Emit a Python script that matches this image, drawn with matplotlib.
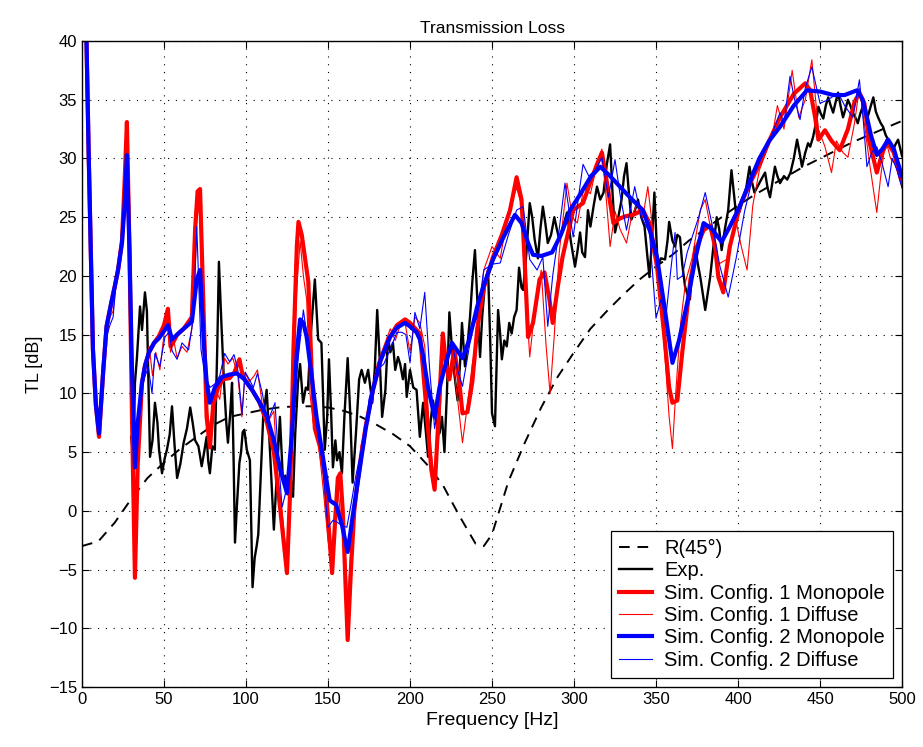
import numpy as np
import matplotlib
matplotlib.use("Agg")
import matplotlib.pyplot as plt

plt.rcParams['font.family'] = ['Liberation Sans', 'DejaVu Sans']

# R(45 deg) mass-law style curve
f_r45 = [0, 10, 20, 30, 40, 50, 60, 70, 80, 90, 100, 110, 120, 130, 140, 150, 160,
         170, 180, 190, 200, 210, 220, 230, 240, 245, 250, 260, 270, 280, 290, 300,
         310, 320, 330, 340, 350, 360, 370, 380, 390, 400, 410, 420, 430, 440, 450,
         460, 470, 480, 490, 500]
tl_r45 = [-3.0, -2.6, -1.0, 1.0, 2.8, 4.1, 5.3, 6.3, 7.3, 8.0, 8.3, 8.6, 8.8, 8.9, 8.9,
          8.8, 8.5, 8.0, 7.3, 6.5, 5.5, 4.0, 2.2, -0.4, -2.8, -3.0, -2.0, 2.5, 5.8, 8.8,
          11.4, 13.5, 15.5, 17.0, 18.4, 19.7, 20.8, 21.8, 23.0, 24.0, 25.0, 26.0, 26.9,
          27.7, 28.5, 29.3, 30.0, 30.7, 31.4, 32.0, 32.6, 33.2]

# experiment
f_exp = [30, 31.3, 32.3, 33.5, 35.4, 36.6, 38.4, 39.6, 41.5, 43, 44.5, 46, 47, 48.8,
         50.5, 51.8, 53.5, 54.9, 56.5, 58, 60, 62, 64, 66, 67.5, 69, 71, 73, 74.5, 76,
         77, 78, 79.5, 81, 82.5, 83.5, 85, 86.6, 88, 89, 90.5, 91.5, 92.5, 93.3, 94.5,
         96, 97, 98, 99, 100.5, 102.4, 104, 105.3, 106.5, 107.5, 109, 110.5, 112.6,
         114.6, 117, 119, 120.7, 122.6, 124, 125.6, 127, 128.7, 130, 131.7, 133, 134.8,
         136.5, 137.8, 139.5, 142, 144, 146, 148, 149.5, 150.6, 152, 153, 154.5, 155.5,
         157, 158.5, 160, 162, 163.5, 165, 167, 169, 170.5, 172.5, 174.5, 177, 178.5,
         180, 181.5, 183, 185, 186.6, 188, 189.6, 191, 192.7, 194, 195.7, 197, 198, 200,
         202, 204, 206, 208, 209.5, 211, 212.5, 214, 216, 218, 219.5, 221, 222.5, 224,
         225.5, 227, 229, 230.5, 231.7, 233.5, 235, 236.6, 238, 239.6, 241, 242.7, 244,
         245.7, 247.6, 249, 250, 251.8, 253.7, 255, 256, 257.5, 259, 260.5, 262, 263.5,
         265, 266.5, 268, 269, 271, 273, 274.5, 276, 278, 279.5, 281, 282.5, 284, 286,
         288, 289.5, 291, 293, 295.7, 298, 300.6, 302, 303.7, 305, 306.7, 308.5, 310,
         312, 314, 316, 318, 320, 322, 323.5, 325, 327, 329, 330.5, 332, 333.5, 335,
         337, 339, 341, 343, 344.5, 346, 347.5, 349, 351, 353, 355.5, 357, 358, 360,
         361.6, 363, 364.6, 366, 367.7, 369, 370.7, 372, 373.8, 375.5, 377, 378.5, 380,
         381.5, 383, 385, 387, 388.5, 390, 392, 394, 396, 397.5, 399, 401, 403, 405,
         407, 408.5, 410, 411.5, 413, 414.5, 416.5, 418, 419.5, 421, 422.5, 424, 425.6,
         428, 430, 432, 434, 436, 437.5, 439, 441, 442.7, 444, 445.7, 447.5, 449, 450.5,
         452, 453.5, 455, 456.5, 458, 459.5, 461, 462.5, 464, 465.5, 467, 468.5, 470,
         471.5, 473, 474.5, 476, 477.5, 479, 481, 482.5, 484, 485.4, 487, 488.4, 490,
         491.5, 493, 494.5, 496, 497.6, 499, 500]
tl_exp = [6.3, 4.5, 10.9, 13.0, 17.4, 15.4, 18.6, 17.0, 4.6, 6.0, 9.2, 7.5, 5.2, 3.2,
          4.5, 5.2, 6.5, 8.9, 5.5, 2.8, 4.0, 5.8, 7.0, 8.8, 7.5, 6.0, 5.5, 3.8, 5.0, 6.3,
          4.2, 3.2, 5.5, 5.2, 14.0, 21.2, 16.0, 10.9, 7.5, 5.8, 8.5, 10.9, 4.0, -2.7, 0.5,
          4.1, 5.0, 6.7, 6.9, 5.2, 4.3, -6.5, -4.0, -3.0, -2.0, 3.0, 8.0, 10.3,
          5.2, -1.6, 3.5, 8.0, 2.4, 3.0, 1.4, 3.0, 1.2, 6.5, 10.9, 12.5, 9.2,
          10.5, 10.3, 15.0, 19.7, 14.6, 14.3, 5.2, 8.0, 12.9, 8.0, 3.7, 6.0, 4.3,
          5.0, 3.2, 8.0, 13.0, 8.5, 2.4, 6.5, 11.2, 12.0, 10.9, 12.0, 9.2, 12.0,
          17.1, 13.0, 8.0, 10.3, 14.8, 13.5, 14.3, 12.0, 13.1, 12.5, 11.2, 12.5, 9.7, 12.0,
          10.5, 10.3, 6.3, 9.2, 7.0, 4.6, 7.5, 9.4, 7.5, 6.6, 8.0, 5.0, 10.0, 16.9,
          14.0, 11.7, 9.4, 12.5, 16.0, 12.3, 14.0, 16.5, 19.5, 22.2, 18.0, 13.1, 16.5,
          19.4, 20.5, 14.0, 8.3, 7.2, 17.1, 15.0, 12.9, 14.5, 14.0, 16.0, 15.1, 16.5,
          17.1, 20.7, 19.0, 18.8, 22.0, 26.2, 25.0, 23.1, 21.5, 24.0, 25.9, 24.5, 22.8, 23.5,
          25.0, 24.0, 23.1, 24.0, 25.4, 23.0, 20.8, 22.0, 23.7, 22.0, 21.6, 25.6, 24.2,
          26.0, 27.6, 26.5, 27.1, 29.5, 31.2, 27.0, 23.7, 25.0, 26.5, 28.5, 29.6, 27.0, 24.8,
          25.5, 26.5, 25.0, 24.2, 22.0, 19.9, 23.0, 27.1, 20.8, 21.5, 21.4, 23.0, 24.6, 23.0,
          22.5, 23.5, 23.3, 21.0, 19.1, 18.5, 18.0, 20.5, 22.5, 21.0, 19.9, 18.5, 17.1,
          18.5, 19.9, 22.5, 25.0, 24.0, 22.2, 24.0, 25.6, 29.0, 27.0, 25.0, 25.5, 26.5, 27.5,
          29.3, 28.0, 27.1, 27.5, 27.9, 28.3, 28.8, 27.5, 26.7, 28.0, 29.3, 28.5, 27.9,
          28.5, 28.2, 28.8, 30.0, 31.6, 30.5, 29.3, 30.5, 31.3, 31.0, 31.8, 33.0, 34.4, 33.8,
          33.4, 34.5, 35.2, 34.5, 33.9, 34.8, 35.6, 34.5, 33.5, 34.2, 35.0, 34.5, 33.9,
          33.5, 33.0, 33.8, 34.4, 34.0, 33.5, 34.5, 35.2, 34.0, 33.5, 33.0, 32.7, 32.0,
          31.6, 31.0, 30.7, 31.2, 31.6, 30.8, 30.2]

# simulation, config 1, monopole source
f_mono1 = [2.5, 4, 6.7, 8.5, 10.4, 13, 15, 18, 20, 22, 24.4, 26, 27.4, 29, 30.5, 32.3,
           34, 36.6, 38.5, 40.9, 44, 47, 50, 52.4, 54, 55.5, 58, 62, 67, 69, 70.5, 72,
           73.5, 76, 78, 80, 83, 86, 90, 93, 96, 98, 100, 103.7, 108, 112.8, 117, 121,
           125, 127, 129, 131, 132, 134, 136, 138, 140, 142, 145, 148, 150.5, 152.5,
           154.5, 156, 157.5, 159, 162, 164, 166, 168, 170, 173, 177.4, 182, 187.8, 192,
           197, 200, 204, 206, 208, 211, 213, 215, 217, 220, 222, 224, 227, 230, 232, 235,
           238, 241, 245, 250.6, 256, 261, 265, 268, 270, 272, 275, 279, 282, 285, 287,
           290, 293, 299.5, 305.5, 310, 314, 317, 320, 324, 328, 332, 336, 342, 346,
           350.6, 355, 358, 360, 363, 366, 371, 375, 379, 383, 386, 388, 391, 395, 401,
           407, 413, 419, 425.6, 434, 441, 444, 447, 449, 453, 457, 462, 467, 471, 474,
           477, 480, 484.6, 488, 491, 495, 499, 500]
tl_mono1 = [42, 31, 13.7, 9.0, 6.3, 12.0, 15.7, 17.8, 19.1, 20.5, 23.0, 28.0, 33.1, 22.0,
            8.0, -5.7, 4.0, 10.9, 12.4, 13.5, 14.3, 14.9, 15.8, 17.2, 14.0, 14.3, 15.0,
            15.5, 16.5, 24.0, 27.2, 27.4, 20.0, 8.0, 5.4, 9.0, 10.5, 11.2, 11.3, 11.8,
            12.9, 11.5, 11.0, 10.3, 9.3, 7.5, 5.0, 0.0, -5.3, 2.0, 14.0, 22.5, 24.6, 23.5,
            21.5, 19.5, 12.0, 7.0, 5.5, 3.0, -1.5, -5.3, -0.5, 2.8, 3.2, 0.0, -11.0,
            -5.0, 0.0, 2.4, 4.5, 7.2, 10.3, 12.8, 14.8, 15.8, 16.3, 16.0, 15.4, 15.1, 12.0,
            7.0, 3.5, 1.8, 7.0, 15.1, 12.5, 11.2, 13.7, 11.0, 8.3, 8.4, 11.0, 15.5, 19.0,
            21.6, 23.5, 25.6, 28.4, 26.5, 21.0, 14.8, 16.0, 19.7, 20.3, 18.0, 16.0, 19.0,
            21.6, 25.6, 26.2, 28.0, 29.5, 30.5, 28.0, 24.5, 24.9, 25.1, 25.2, 25.6, 24.5,
            20.8, 15.0, 10.5, 9.2, 9.4, 13.5, 19.7, 22.5, 23.9, 24.3, 22.5, 19.9, 18.6,
            22.5, 25.9, 27.8, 29.5, 31.5, 33.5, 35.5, 36.4, 35.8, 33.5, 31.6, 32.4, 31.5,
            30.7, 32.5, 34.8, 35.6, 34.7, 31.5, 28.8, 30.5, 31.4, 30.5, 28.4, 28.0]

# simulation, config 1, diffuse field
f_diff1 = [2.5, 4, 6.7, 8.5, 10.4, 13, 15, 17, 19, 21, 24, 26, 27.4, 29, 30.5, 32.3,
           34, 36.5, 38.5, 41, 43, 45, 47.5, 50, 52, 54, 56, 58, 61, 64, 67, 69, 70.5,
           72, 73.5, 76, 78, 81, 84, 87, 89, 92, 95, 97.5, 99.5, 102, 105, 107, 110, 113,
           117, 120, 122, 125, 127, 129, 131, 133, 135, 137, 139, 141, 144, 147, 150,
           152.5, 154, 156, 158, 160, 162, 164, 166, 168, 170, 173, 176, 180, 184, 188,
           191, 194, 197, 200, 203, 206, 209, 212, 215, 218, 220, 223, 226, 229, 232, 235,
           238, 241, 245, 250, 255, 260, 265, 268, 270, 273, 276, 280, 283, 285.4, 288,
           291, 295.7, 299, 302, 306, 310, 314, 317, 320, 322, 325, 328, 332, 335, 338,
           342, 345, 348, 351, 355, 358, 360, 362, 365, 368, 372, 377, 380, 384, 388, 393,
           396, 399, 402, 405.5, 409, 413, 417, 421, 424, 428, 433, 437, 441, 445, 449,
           453, 457, 460, 464, 467, 471, 474, 477, 480.5, 484.6, 487, 490, 493, 496, 500]
tl_diff1 = [42, 31, 13.7, 9.0, 6.2, 11.5, 15.0, 16.5, 17.0, 19.5, 22.5, 27.0, 32.0, 22.0,
            10.0, -4.5, 3.0, 10.5, 12.5, 14.0, 11.5, 13.5, 12.0, 15.0, 16.5, 13.5, 14.5,
            13.0, 14.0, 13.5, 15.5, 22.0, 26.0, 25.0, 17.0, 9.0, 7.0, 10.5, 9.5, 13.0,
            12.5, 13.0, 11.5, 8.0, 11.8, 11.0, 11.5, 12.0, 9.0, 7.5, 8.5, 1.5, 0.0, -4.5,
            3.0, 11.5, 19.0, 23.0, 20.0, 18.0, 10.0, 7.5, 6.0, 2.0, -2.5, -5.0, 0.0, 2.0,
            -1.0, -2.0, -8.0, -3.0, 1.0, 1.8, 5.5, 7.0, 9.5, 12.5, 14.0, 15.5, 14.5, 15.8,
            16.0, 13.5, 16.5, 16.0, 14.0, 6.0, 2.5, 7.0, 14.0, 11.0, 13.0, 9.5, 5.8, 9.0,
            12.5, 15.0, 20.5, 22.5, 21.5, 25.5, 27.5, 26.0, 20.0, 13.1, 17.0, 20.5, 14.0,
            10.0, 15.0, 22.0, 27.9, 25.0, 24.5, 27.5, 27.0, 29.5, 30.8, 26.0, 22.5, 25.5,
            24.0, 22.8, 25.0, 26.0, 25.0, 27.6, 24.0, 20.0, 14.0, 8.0, 5.3, 10.0, 16.0,
            19.5, 21.5, 25.6, 26.5, 23.5, 21.0, 21.4, 23.0, 24.5, 22.5, 20.5, 26.0, 29.0,
            30.5, 32.0, 34.5, 32.5, 37.5, 33.5, 35.0, 38.4, 32.5, 31.0, 28.8, 31.5, 30.5,
            30.1, 33.0, 36.0, 33.0, 29.3, 25.4, 28.5, 31.6, 30.0, 29.5, 27.5]

# simulation, config 2, monopole source
f_mono2 = [2.5, 4, 6.7, 8.5, 10.4, 13, 15, 18, 20, 22, 24.4, 26, 27.4, 29, 30.5, 32.3,
           34, 36.6, 38.5, 40.9, 44, 47, 50, 52.4, 55, 58, 62, 67, 70, 72, 74.4, 76, 78,
           81, 85.4, 90, 94.5, 99, 103.7, 108, 112.8, 117, 121, 125, 128, 131, 133, 135,
           137, 140, 143, 147, 151, 155, 158.5, 162, 165, 169.5, 173, 177.4, 182, 187.8,
           192, 197, 200, 204, 206, 208, 211, 215, 218, 222.5, 225.6, 229, 232, 236, 241,
           244.5, 250.6, 257, 264, 268, 272, 275, 280, 286.6, 292, 297.6, 304, 310, 316,
           322, 328, 334, 342, 346, 350.6, 355, 360, 364, 369, 374, 379, 384, 390, 395,
           401, 407, 413, 419, 425.6, 434, 442, 450, 458, 465, 472.5, 476, 478.6, 481,
           484.6, 488, 491.5, 495, 498.8, 500]
tl_mono2 = [42, 31, 13.7, 9.0, 6.6, 12.0, 15.7, 17.8, 19.1, 20.5, 22.8, 26.0, 30.3, 22.0,
            12.0, 3.7, 7.5, 10.9, 12.4, 13.5, 14.3, 14.7, 15.3, 15.8, 14.6, 15.0, 15.5,
            16.1, 19.7, 20.5, 14.0, 11.0, 9.2, 10.5, 11.4, 11.6, 11.7, 11.2, 10.3, 9.3,
            8.0, 6.0, 3.5, 1.5, 6.5, 13.5, 16.3, 16.0, 14.8, 11.5, 8.0, 4.5, 0.9, 0.5,
            -1.2, -3.5, -0.5, 3.7, 7.0, 10.3, 12.8, 14.8, 15.6, 16.0, 15.7, 15.2, 14.6,
            13.2, 10.5, 8.0, 10.5, 12.9, 14.3, 13.6, 13.0, 14.5, 17.4, 19.0, 21.4, 23.3,
            25.2, 24.5, 22.8, 21.8, 21.7, 22.0, 23.5, 25.6, 27.0, 28.4, 29.3, 28.5, 27.6,
            26.7, 25.6, 24.0, 21.6, 17.5, 12.6, 14.5, 17.7, 21.5, 24.5, 24.0, 22.9, 24.2,
            25.9, 28.0, 30.0, 31.5, 32.7, 34.5, 35.8, 35.7, 35.4, 35.4, 35.8, 35.0, 33.5,
            32.0, 30.3, 30.8, 31.6, 30.8, 29.0, 28.5]

# simulation, config 2, diffuse field
f_diff2 = [2.5, 4, 6.7, 8.5, 10.4, 13, 15, 17, 19, 21, 24, 26, 27.4, 29, 30.5, 32.3,
           34, 36.5, 38.5, 40.5, 42.7, 44.5, 47.5, 50.6, 53, 55, 58, 61, 65, 68, 70,
           72.6, 75, 78, 81, 84, 87, 90, 92.7, 95, 97.6, 99.5, 102, 104.5, 107, 110, 113,
           117.7, 120, 122, 125, 128, 131, 133, 135, 138, 141, 144, 147, 150, 153, 156,
           158, 161.5, 164, 167, 170, 172.5, 175, 180, 184, 187.8, 192, 195, 197.5, 200,
           203, 206, 209, 212, 215, 218, 220, 223, 226, 229, 232, 235, 238, 241, 245, 250,
           255, 260, 265, 269, 273, 277.5, 281, 284, 287, 291, 294.5, 299.5, 303, 305.5,
           309, 313, 317, 321, 325, 328, 332, 337, 341, 346, 350, 353, 356, 359, 361.6,
           363, 366, 369, 372, 376, 380, 384, 389, 394, 399, 404, 409, 414, 419.5, 425.6,
           428, 431.7, 434.5, 437.8, 441, 445, 450, 455, 461, 465, 470, 474, 476.5,
           478.6, 481.5, 484.6, 488, 491.5, 494, 497, 500]
tl_diff2 = [42, 31, 13.7, 9.2, 6.8, 12.3, 14.8, 15.8, 16.5, 19.8, 22.5, 25.0, 29.5, 21.0,
            11.0, 4.5, 7.0, 10.5, 11.5, 12.2, 10.0, 13.4, 12.3, 14.8, 15.2, 13.6, 12.9,
            14.3, 13.7, 16.5, 24.2, 13.7, 11.5, 10.5, 10.8, 11.5, 13.4, 12.7, 13.3, 12.0,
            8.3, 11.8, 11.2, 10.5, 11.7, 10.0, 7.5, 9.2, 4.0, 0.3, 2.0, 6.0, 12.0, 14.5,
            17.1, 14.0, 10.5, 7.0, 3.5, -1.4, -0.8, -1.0, -1.2, -1.4, 0.5, 3.0, 5.0, 5.8,
            9.5, 12.0, 12.5, 13.7, 15.2, 15.2, 15.0, 12.6, 16.9, 15.5, 18.6, 12.0, 7.0,
            10.0, 11.7, 13.0, 14.0, 12.0, 10.6, 13.0, 15.5, 16.5, 20.5, 21.0, 21.1, 23.5,
            25.6, 25.9, 21.4, 20.5, 21.6, 15.7, 20.0, 24.0, 27.9, 23.3, 27.0, 29.5, 28.5,
            29.0, 30.1, 26.7, 29.9, 27.0, 23.9, 27.6, 25.0, 23.7, 16.4, 18.0, 16.5, 20.5,
            23.7, 19.7, 20.0, 22.0, 23.3, 25.0, 27.1, 24.5, 20.8, 18.2, 21.6, 25.5, 28.4,
            30.0, 31.6, 33.9, 33.0, 37.0, 35.0, 33.3, 36.0, 37.8, 34.7, 35.0, 35.6, 34.5,
            33.5, 36.7, 33.0, 29.3, 30.5, 31.0, 29.5, 27.6, 30.0, 29.0, 27.5]

fig = plt.figure(figsize=(9.23, 7.47), dpi=100)
ax = fig.add_axes([0.0888, 0.0803, 0.8885, 0.8648])

ax.plot(f_r45, tl_r45, color='k', lw=1.4, ls=(0, (5.5, 4)), label='R(45°)')
ax.plot(f_exp, tl_exp, color='k', lw=1.7, label='Exp.')
ax.plot(f_mono1, tl_mono1, color='r', lw=3.0, label='Sim. Config. 1 Monopole')
ax.plot(f_diff1, tl_diff1, color='r', lw=0.8, label='Sim. Config. 1 Diffuse')
ax.plot(f_mono2, tl_mono2, color='b', lw=3.0, label='Sim. Config. 2 Monopole')
ax.plot(f_diff2, tl_diff2, color='b', lw=0.8, label='Sim. Config. 2 Diffuse')

ax.set_xlim(0, 500)
ax.set_ylim(-15, 40)
ax.set_xticks(np.arange(0, 501, 50))
ax.set_yticks(np.arange(-15, 41, 5))
ax.grid(True, color='k', ls=(0, (1, 6)), lw=0.8)
ax.tick_params(direction='in', top=True, right=True, labelsize=12, length=5)
for s in ax.spines.values():
    s.set_linewidth(1.0)

ax.set_xlabel('Frequency [Hz]', fontsize=14, labelpad=4)
ax.set_ylabel('TL [dB]', fontsize=13)
ax.set_title('Transmission Loss', fontsize=12.5, pad=6)

leg = ax.legend(loc='lower right', fontsize=14.5, fancybox=False, framealpha=1,
                edgecolor='k', handlelength=1.65, handletextpad=0.6,
                labelspacing=0.17, borderaxespad=0.45, borderpad=0.4)
leg.get_frame().set_linewidth(0.9)

fig.savefig('out.png', dpi=100)
